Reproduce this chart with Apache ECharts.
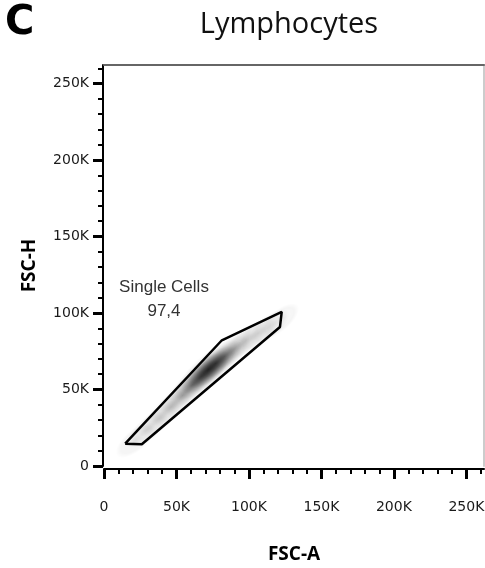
<!DOCTYPE html>
<html>
<head>
<meta charset="utf-8">
<script src="https://cdn.jsdelivr.net/npm/echarts@6/dist/echarts.min.js"></script>
<style>
  html, body { margin: 0; padding: 0; background: #fff; }
  #chart { width: 485px; height: 568px; }
</style>
</head>
<body>
<div id="chart"></div>
<script>
"use strict";

var axisMax = 262144;
var majorTicks = [0, 50000, 100000, 150000, 200000, 250000];
var tickLabels = ["0", "50K", "100K", "150K", "200K", "250K"];
var minorTicks = [10000, 20000, 30000, 40000, 60000, 70000, 80000, 90000,
  110000, 120000, 130000, 140000, 160000, 170000, 180000, 190000,
  210000, 220000, 230000, 240000, 260000];

// gate "Single Cells" vertices (FSC-A, FSC-H)
var gateX = [14600, 26100, 121400, 122600, 81300, 14600];
var gateY = [14600, 14200, 90900, 100700, 82200, 14600];

// density ridge, estimated from the plot
var densX = [22000, 30000, 38000, 46000, 54000, 61000, 67000, 72000, 77000, 83000, 90000, 98000, 106000, 114000, 121000];
var densY = [17000, 24000, 31000, 38500, 46000, 53000, 58500, 63000, 67000, 71500, 76500, 82000, 86500, 91000, 95000];
var densLevel = [0.12, 0.14, 0.18, 0.24, 0.32, 0.45, 0.65, 0.85, 0.7, 0.45, 0.28, 0.18, 0.14, 0.12, 0.08];

var gateName = "Single Cells";
var gatePct = "97,4";

var chart = echarts.init(document.getElementById("chart"));

function tickLabel(v) {
  var i = majorTicks.indexOf(v);
  return i < 0 ? "" : tickLabels[i];
}

var labelStyle = {
  fontFamily: "DejaVu Sans",
  fontSize: 14,
  color: "#1a1a1a",
};
var nameStyle = {
  fontFamily: "Open Sans",
  fontWeight: "bold",
  fontSize: 19,
  color: "#000",
};

chart.setOption({
  animation: false,
  grid: {
    left: 104,
    right: 1,
    top: 65,
    bottom: 102,
    containLabel: false,
    outerBoundsMode: "none",
  },
  graphic: [
    {
      type: "text",
      left: 5,
      top: 4,
      style: { text: "C", font: "bold 40px 'DejaVu Sans'", fill: "#000" },
    },
    {
      type: "text",
      x: 289,
      y: 25,
      style: {
        text: "Lymphocytes",
        font: "29px 'Open Sans'",
        fill: "#111",
        textAlign: "center",
        textVerticalAlign: "middle",
      },
    },
    {
      type: "text",
      x: 164,
      y: 287,
      z: 10,
      style: {
        text: gateName,
        font: "17px 'Liberation Sans'",
        fill: "#333",
        textAlign: "center",
        textVerticalAlign: "middle",
      },
    },
    {
      type: "text",
      x: 164,
      y: 311,
      z: 10,
      style: {
        text: gatePct,
        font: "17px 'Liberation Sans'",
        fill: "#333",
        textAlign: "center",
        textVerticalAlign: "middle",
      },
    },
  ],
  xAxis: [
    {
      type: "value",
      min: 0,
      max: axisMax,
      position: "bottom",
      offset: 3,
      axisLine: { show: true, onZero: false, lineStyle: { color: "#000", width: 2 } },
      axisTick: { show: true, customValues: majorTicks, length: 10, lineStyle: { color: "#000", width: 3 } },
      axisLabel: Object.assign({ customValues: majorTicks, formatter: tickLabel, margin: 31 }, labelStyle),
      splitLine: { show: false },
      name: "FSC-A",
      nameLocation: "middle",
      nameGap: 76,
      nameTextStyle: nameStyle,
    },
    {
      type: "value",
      min: 0,
      max: axisMax,
      position: "bottom",
      offset: 3,
      axisLine: { show: false, onZero: false },
      axisTick: { show: true, customValues: minorTicks, length: 5, lineStyle: { color: "#000", width: 2 } },
      axisLabel: { show: false },
      splitLine: { show: false },
    },
    {
      type: "value",
      min: 0,
      max: axisMax,
      position: "top",
      axisLine: { show: true, onZero: false, lineStyle: { color: "#666", width: 2 } },
      axisTick: { show: false },
      axisLabel: { show: false },
      splitLine: { show: false },
    },
  ],
  yAxis: [
    {
      type: "value",
      min: 0,
      max: axisMax,
      position: "left",
      offset: 1,
      axisLine: { show: true, onZero: false, lineStyle: { color: "#000", width: 2 } },
      axisTick: { show: true, customValues: majorTicks, length: 10, lineStyle: { color: "#000", width: 3 } },
      axisLabel: Object.assign({ customValues: majorTicks, formatter: tickLabel, margin: 14 }, labelStyle),
      splitLine: { show: false },
      name: "FSC-H",
      nameLocation: "middle",
      nameGap: 64,
      nameRotate: 90,
      nameTextStyle: nameStyle,
    },
    {
      type: "value",
      min: 0,
      max: axisMax,
      position: "left",
      offset: 1,
      axisLine: { show: false, onZero: false },
      axisTick: { show: true, customValues: minorTicks, length: 5, lineStyle: { color: "#000", width: 2 } },
      axisLabel: { show: false },
      splitLine: { show: false },
    },
    {
      type: "value",
      min: 0,
      max: axisMax,
      position: "right",
      axisLine: { show: true, onZero: false, lineStyle: { color: "#ccc", width: 2 } },
      axisTick: { show: false },
      axisLabel: { show: false },
      splitLine: { show: false },
    },
  ],
  series: [
    {
      name: "density",
      type: "custom",
      silent: true,
      z: 1,
      data: densX.map(function (x, i) {
        return [x, densY[i], densLevel[i]];
      }),
      renderItem: function (params, api) {
        var p = api.coord([api.value(0), api.value(1)]);
        var a = api.value(2);
        return {
          type: "circle",
          x: p[0],
          y: p[1],
          rotation: (40 * Math.PI) / 180,
          scaleX: 2.3,
          scaleY: 1,
          shape: { cx: 0, cy: 0, r: 10 + 6 * a },
          style: {
            fill: {
              type: "radial",
              x: 0.5,
              y: 0.5,
              r: 0.5,
              colorStops: [
                { offset: 0, color: "rgba(0,0,0," + a * 0.8 + ")" },
                { offset: 0.4, color: "rgba(0,0,0," + a * 0.35 + ")" },
                { offset: 0.75, color: "rgba(0,0,0,0.04)" },
                { offset: 1, color: "rgba(0,0,0,0)" },
              ],
            },
          },
        };
      },
    },
    {
      name: "gate",
      type: "line",
      z: 5,
      symbol: "none",
      silent: true,
      data: gateX.map(function (x, i) {
        return [x, gateY[i]];
      }),
      lineStyle: { color: "#000", width: 2.5 },
    },
  ],
});
</script>
</body>
</html>
